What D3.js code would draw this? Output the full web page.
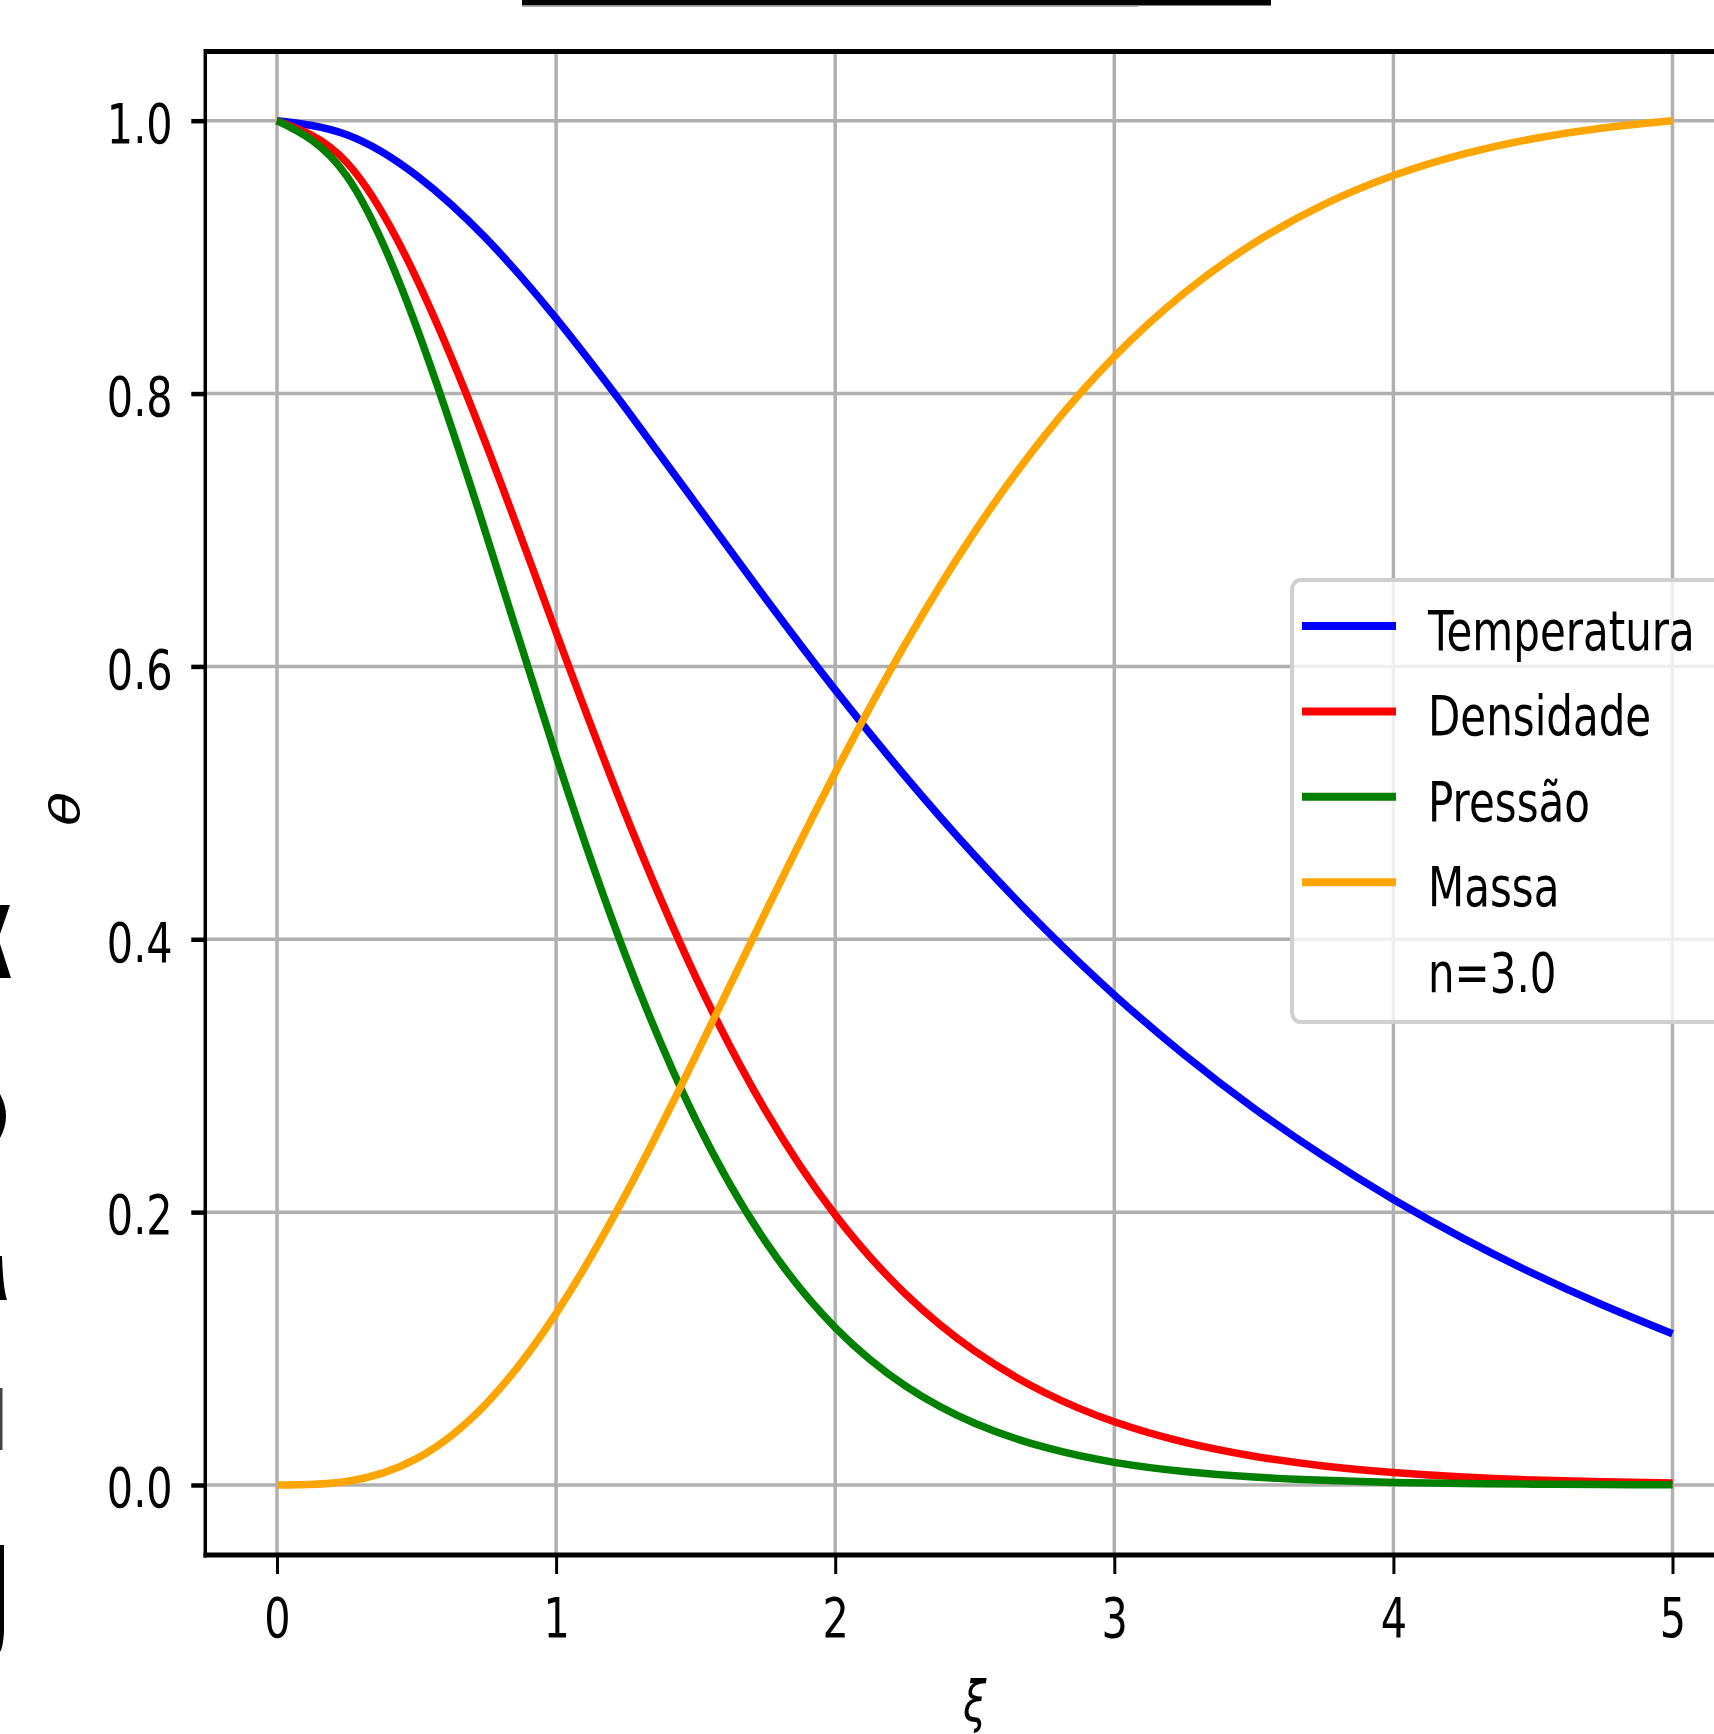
<!DOCTYPE html>
<html>
<head>
<meta charset="utf-8">
<script src="https://cdn.jsdelivr.net/npm/d3@7"></script>
<style>
    body { margin: 0; background: #fff; }
    svg { display: block; }
    text { font-family: "DejaVu Sans", sans-serif; fill: #000; }
</style>
</head>
<body>
<div id="chart"></div>
<script>
// Lane-Emden n=3 profiles, every 0.25 in xi
const xi = [0, 0.25, 0.5, 0.75, 1, 1.25, 1.5, 1.75, 2, 2.25, 2.5,
    2.75, 3, 3.25, 3.5, 3.75, 4, 4.25, 4.5, 4.75, 5];
const temperatura = [1, 0.9897, 0.9598, 0.9135, 0.8551, 0.7890, 0.7195,
    0.6500, 0.5828, 0.5197, 0.4613, 0.4078, 0.3592, 0.3155, 0.2762,
    0.2410, 0.2093, 0.1808, 0.1551, 0.1319, 0.1108];
const densidade = [1, 0.9694, 0.8843, 0.7624, 0.6251, 0.4911, 0.3725,
    0.2746, 0.1980, 0.1404, 0.0982, 0.0678, 0.0463, 0.0314, 0.0211,
    0.0140, 0.0092, 0.0059, 0.0037, 0.0023, 0.0014];
const pressao = [1, 0.9594, 0.8487, 0.6965, 0.5345, 0.3875, 0.2680,
    0.1785, 0.1154, 0.0729, 0.0453, 0.0277, 0.0166, 0.0099, 0.0058,
    0.0034, 0.0019, 0.0011, 0.0006, 0.0003, 0.0002];
const massa = [0, 0.0026, 0.0193, 0.0597, 0.1258, 0.2133, 0.3144,
    0.4197, 0.5221, 0.6160, 0.6988, 0.7690, 0.8270, 0.8736, 0.9102,
    0.9385, 0.9598, 0.9755, 0.9868, 0.9947, 1.0];

const seriesNames = ["Temperatura", "Densidade", "Pressão", "Massa"];
const extraLegend = "n=3.0";
const xTicks = [0, 1, 2, 3, 4, 5];
const yTicks = [0, 0.2, 0.4, 0.6, 0.8, 1.0];
const xLabel = "ξ";
const yLabel = "θ";

const colors = ["#0000ff", "#ff0000", "#008000", "#ffa500"];
const W = 1714, H = 1734;
const SX = 0.74;          // picture is squeezed horizontally
const FS = 56;
const xLim = [-0.257, 5.257], yLim = [-0.0513, 1.0507];

const svg = d3.select("#chart").append("svg")
    .attr("width", W).attr("height", H)
    .attr("viewBox", [0, 0, W, H]);
svg.append("rect").attr("width", W).attr("height", H).attr("fill", "#fff");

const xScale = d3.scaleLinear().domain([0, 5]).range([277, 1672.5]);
const yScale = d3.scaleLinear().domain([0, 1]).range([1485, 120.7]);
const plotLeft = xScale(xLim[0]), plotRight = xScale(xLim[1]);
const plotTop = yScale(yLim[1]), plotBottom = yScale(yLim[0]);

// grid
const grid = svg.append("g").attr("stroke", "#b0b0b0").attr("stroke-width", 3.5);
grid.selectAll(".gx").data(xTicks).join("line")
    .attr("x1", d => xScale(d)).attr("x2", d => xScale(d))
    .attr("y1", plotTop).attr("y2", plotBottom);
grid.selectAll(".gy").data(yTicks).join("line")
    .attr("x1", plotLeft).attr("x2", plotRight)
    .attr("y1", d => yScale(d)).attr("y2", d => yScale(d));

// curves
const series = [temperatura, densidade, pressao, massa];
const line = d3.line()
    .x((d, i) => xScale(xi[i]))
    .y(d => yScale(d))
    .curve(d3.curveNatural);
svg.append("g").selectAll("path").data(series).join("path")
    .attr("d", d => line(d))
    .attr("fill", "none")
    .attr("stroke", (d, i) => colors[i])
    .attr("stroke-width", 7.5)
    .attr("stroke-linecap", "butt");

// spines
const spines = svg.append("g").attr("stroke", "#000");
spines.append("line").attr("x1", plotLeft).attr("x2", plotRight)
    .attr("y1", plotTop).attr("y2", plotTop).attr("stroke-width", 5);
spines.append("line").attr("x1", plotLeft - 1.75).attr("x2", plotRight)
    .attr("y1", plotBottom).attr("y2", plotBottom).attr("stroke-width", 5);
spines.append("line").attr("x1", plotLeft).attr("x2", plotLeft)
    .attr("y1", plotTop - 2.5).attr("y2", plotBottom + 2.5).attr("stroke-width", 3.5);

// x axis
const xAxis = svg.append("g")
    .attr("transform", `translate(0, ${plotBottom})`)
    .call(d3.axisBottom(xScale).tickValues(xTicks).tickSize(19)
        .tickPadding(23).tickFormat(d3.format("d")));
xAxis.select(".domain").remove();
xAxis.selectAll(".tick line").attr("stroke", "#000").attr("stroke-width", 3);
xAxis.selectAll(".tick text")
    .attr("font-size", FS).attr("font-family", "DejaVu Sans")
    .attr("transform", `scale(${SX},1)`);

// y axis
const yAxis = svg.append("g")
    .attr("transform", `translate(${plotLeft}, 0)`)
    .call(d3.axisLeft(yScale).tickValues(yTicks).tickSize(14)
        .tickFormat(d3.format(".1f")));
yAxis.select(".domain").remove();
yAxis.selectAll(".tick line").attr("stroke", "#000").attr("stroke-width", 4.5);
yAxis.selectAll(".tick text")
    .attr("font-size", FS).attr("font-family", "DejaVu Sans")
    .attr("x", 0).attr("dy", "0.39em")
    .attr("transform", `translate(-32.6,0) scale(${SX},1)`);

// axis labels
svg.append("text")
    .attr("transform", `translate(79, 809) scale(${SX},1) rotate(-90)`)
    .attr("text-anchor", "middle").attr("font-size", FS)
    .attr("font-style", "italic").text(yLabel);
svg.append("text")
    .attr("transform", `translate(${(plotLeft + plotRight) / 2}, 1721) scale(${SX},1)`)
    .attr("text-anchor", "middle").attr("font-size", FS)
    .attr("font-style", "italic").text(xLabel);

// legend
const legend = svg.append("g");
legend.append("rect")
    .attr("x", 1292).attr("y", 580).attr("width", 480).attr("height", 442)
    .attr("rx", 8).attr("ry", 10)
    .attr("fill", "rgba(255,255,255,0.8)")
    .attr("stroke", "#d0d0d0").attr("stroke-width", 4);
const entries = seriesNames.concat([extraLegend]);
const rowY = i => 626 + i * 85.4;
legend.selectAll(".swatch").data(seriesNames).join("line")
    .attr("x1", 1302).attr("x2", 1396)
    .attr("y1", (d, i) => rowY(i)).attr("y2", (d, i) => rowY(i))
    .attr("stroke", (d, i) => colors[i]).attr("stroke-width", 8);
legend.selectAll(".label").data(entries).join("text")
    .attr("transform", (d, i) => `translate(1428, ${rowY(i) + 24}) scale(0.75,1)`)
    .attr("font-size", FS).text(d => d);

// remains of the cropped-off page around the figure
svg.append("rect").attr("x", 522).attr("y", 0).attr("width", 749).attr("height", 5.5)
    .attr("fill", "#000");
svg.append("rect").attr("x", 522).attr("y", 5.5).attr("width", 616).attr("height", 1.5)
    .attr("fill", "#aaa");
const bits = svg.append("g").attr("fill", "#000");
bits.append("path").attr("d", "M0,905 L10,905 L0,934 Z");
bits.append("path").attr("d", "M0,944 L11,978 L0,978 Z");
bits.append("path").attr("d", "M0,1094 Q12,1116 0,1138 Z");
bits.append("path").attr("d", "M0,1256 L2,1256 Q3,1288 7,1300 L0,1300 Z");
bits.append("rect").attr("x", 0).attr("y", 1388).attr("width", 2.5).attr("height", 62)
    .attr("fill", "#444");
bits.append("path").attr("d", "M0,1545 L4,1545 L4,1632 Q3,1648 0,1652 Z");
</script>
</body>
</html>
